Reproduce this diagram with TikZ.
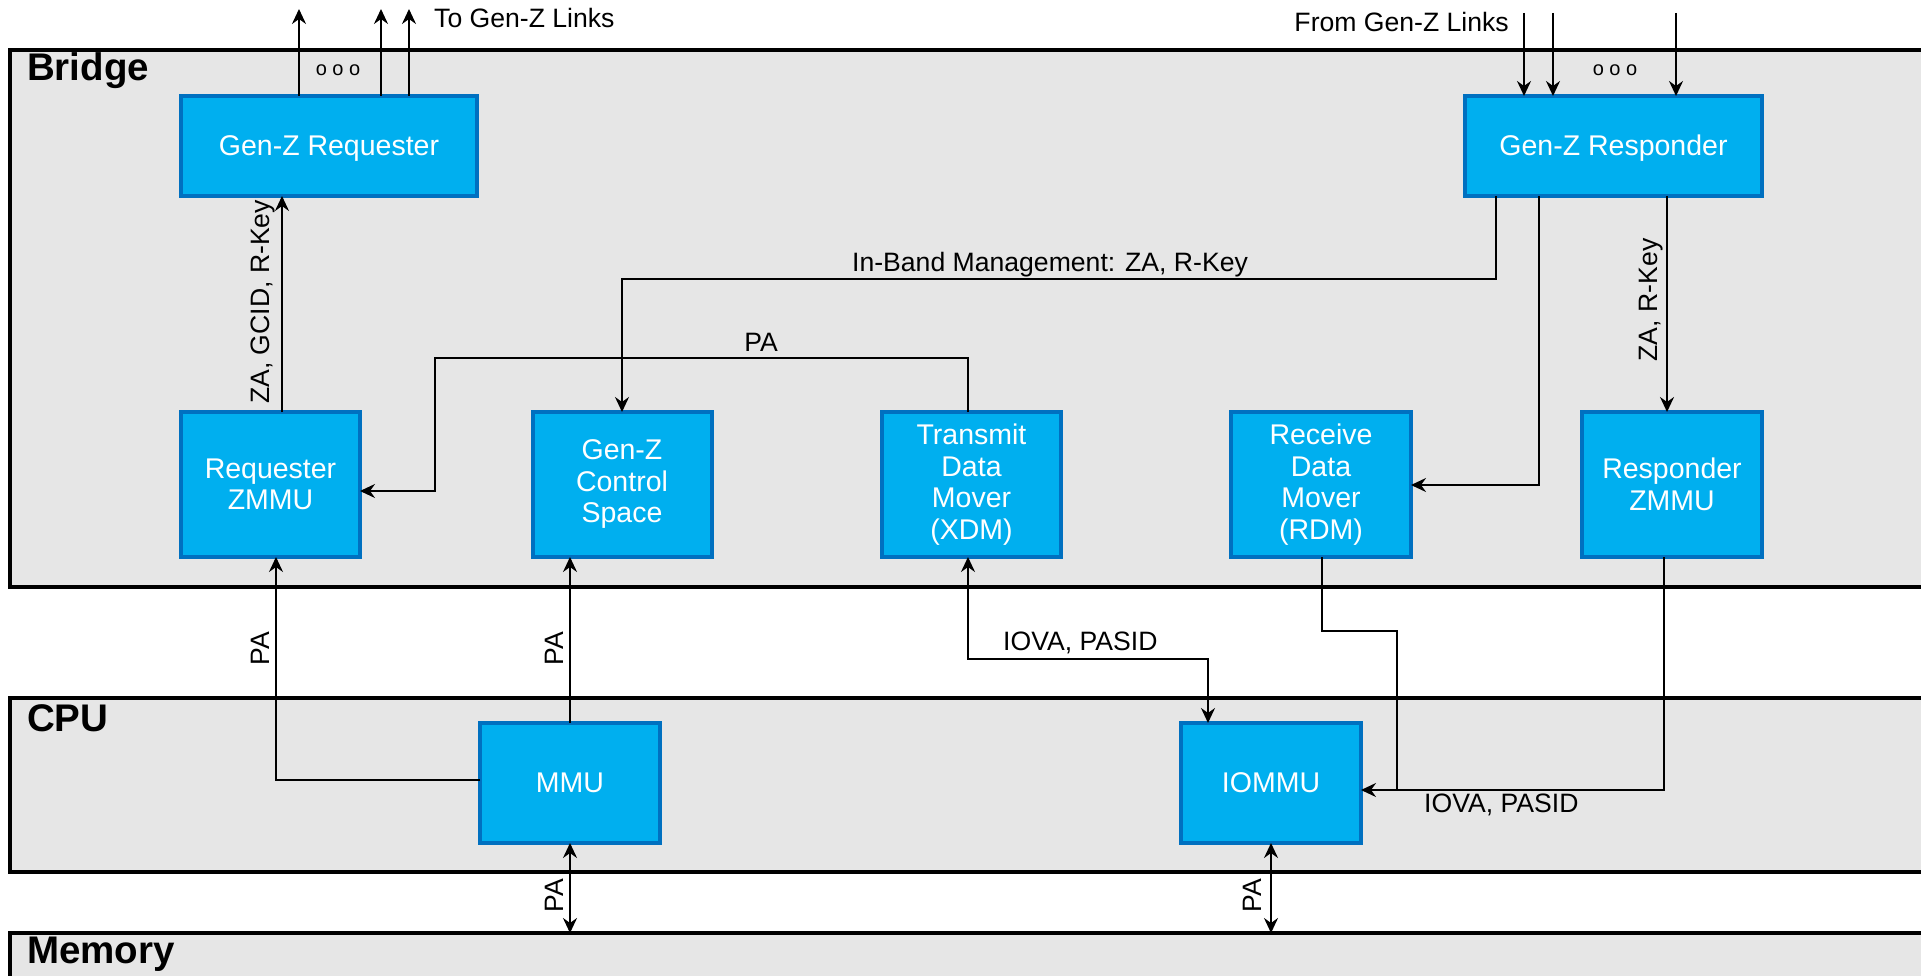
\documentclass[tikz,border=0pt]{standalone}
\usepackage{fontspec}
\setmainfont{Liberation Sans}
\usetikzlibrary{arrows.meta,calc}
\definecolor{boxfill}{HTML}{00AFEF}
\definecolor{boxedge}{HTML}{0070C0}
\definecolor{panelfill}{HTML}{E6E6E6}
\tikzset{
  panel/.style={draw=black, line width=4pt, fill=panelfill, rectangle, outer sep=0pt, inner sep=0pt},
  paneltitle/.style={anchor=west, inner sep=0pt, font=\fontsize{38.5}{40}\selectfont\bfseries},
  blk/.style={draw=boxedge, line width=4pt, fill=boxfill, rectangle, outer sep=0pt, inner sep=0pt,
    text=white, align=center, font=\fontsize{28.5}{31.5}\selectfont},
  strutted/.style={execute at begin node={\rule{0pt}{25pt}}},
  lbl/.style={inner sep=0pt, font=\fontsize{26.6}{30}\selectfont},
  dots/.style={inner sep=0pt, font=\fontsize{20}{22}\selectfont},
  tip/.tip={Stealth[length=15pt,width=14pt,inset=5pt]},
  arr/.style={line width=2pt, -tip},
  arrb/.style={line width=2pt, tip-tip},
  plain/.style={line width=2pt},
}
\begin{document}
\begin{tikzpicture}[x=1pt, y=-1pt]
\useasboundingbox (0,0) rectangle (1921,976);

% layers
\node[panel, minimum width=1950pt, minimum height=537pt] (bridge) at (985,318.5) {};
\node[panel, minimum width=1950pt, minimum height=174pt] (cpu) at (985,785) {};
\node[panel, minimum width=1950pt, minimum height=80pt] (mem) at (985,973) {};
\node[paneltitle] (tbridge) at (27,71) {Bridge};
\node[paneltitle] (tcpu) at (27,718) {CPU};
\node[paneltitle] (tmem) at (27,954) {Memory};

% blocks
\node[blk, strutted, minimum width=296pt, minimum height=100pt] (req) at (329,146) {Gen-Z Requester};
\node[blk, strutted, minimum width=297pt, minimum height=100pt] (resp) at (1613.5,146) {Gen-Z Responder};
\node[blk, minimum width=179pt, minimum height=145pt] (rzmmu) at (270.5,484.5) {Requester\\ZMMU};
\node[blk, minimum width=179pt, minimum height=145pt] (gcs) at (622,484.5) {Gen-Z\\Control\\Space};
\node[blk, minimum width=179pt, minimum height=145pt] (xdm) at (971.5,484.5) {Transmit\\Data\\Mover\\(XDM)};
\node[blk, minimum width=180pt, minimum height=145pt] (rdm) at (1321,484.5) {Receive\\Data\\Mover\\(RDM)};
\node[blk, minimum width=180pt, minimum height=145pt] (respz) at (1672,484.5) {Responder\\ZMMU};
\node[blk, minimum width=180pt, minimum height=120pt] (mmu) at (570,783) {MMU};
\node[blk, minimum width=180pt, minimum height=120pt] (iommu) at (1271,783) {IOMMU};

% link ends and bends
\coordinate (tA) at (299,9);
\coordinate (tB) at (381,9);
\coordinate (tC) at (409,9);
\coordinate (fA) at (1524,13);
\coordinate (fB) at (1553,13);
\coordinate (fC) at (1676,13);
\coordinate (ib) at (1496,279);
\coordinate (rd) at (1539,485);
\coordinate (rz) at (1667,0);
\coordinate (zq) at (282,0);
\coordinate (pa1) at (968,358);
\coordinate (pa2) at (435,491);
\coordinate (m1) at (276,780);
\coordinate (io1) at (968,659);
\coordinate (io2) at (1208,0);
\coordinate (r1) at (1322,631);
\coordinate (r2) at (1397,790);
\coordinate (rz2) at (1664,790);

% Gen-Z links
\draw[arr] (req.north -| tA) -- (tA);
\draw[arr] (req.north -| tB) -- (tB);
\draw[arr] (req.north -| tC) -- (tC);
\draw[arr] (fA) -- (fA |- resp.north);
\draw[arr] (fB) -- (fB |- resp.north);
\draw[arr] (fC) -- (fC |- resp.north);
\node[dots] (dl) at (338,70) {o o o};
\node[dots] (dr) at (1615,70) {o o o};
\node[lbl, anchor=west] (tolinks) at (434,18) {To Gen-Z Links};
\node[lbl, anchor=east] (fromlinks) at (1509,22) {From Gen-Z Links};

% inside the bridge
\draw[arr] (resp.south -| ib) -- (ib) -| (gcs.north);
\node[lbl] (lib) at (1050,265) {In-Band Management: ZA, R-Key};
\draw[arr] (resp.south -| rd) -- (rd) -- (rdm.east |- rd);
\draw[arr] (resp.south -| rz) -- (respz.north -| rz);
\node[lbl, rotate=90] (lzr) at (1651,300) {ZA, R-Key};
\draw[arr] (rzmmu.north -| zq) -- (req.south -| zq);
\node[lbl, rotate=90] (lzg) at (263,302) {ZA, GCID, R-Key};
\draw[arr] (xdm.north -| pa1) -- (pa1) -| (pa2) -- (rzmmu.east |- pa2);
\node[lbl] (lpa) at (761,342) {PA};

% bridge to CPU
\draw[arr] (mmu.west |- m1) -- (m1) -- (rzmmu.south -| m1);
\node[lbl, rotate=90] (lpa1) at (260,649) {PA};
\draw[arr] (mmu.north) -- (mmu.north |- gcs.south);
\node[lbl, rotate=90] (lpa2) at (554,649) {PA};
\draw[arrb] (xdm.south -| io1) -- (io1) -| (io2 |- iommu.north);
\node[lbl, anchor=west] (liova1) at (1003,643) {IOVA, PASID};
\draw[plain] (rdm.south -| r1) -- (r1) -| (r2);
\draw[arr] (respz.south -| rz2) -- (rz2) -- (iommu.east |- rz2);
\node[lbl, anchor=west] (liova2) at (1424,805) {IOVA, PASID};

% CPU to memory
\draw[arrb] (mmu.south) -- (mmu.south |- mem.north);
\node[lbl, rotate=90] (lpa3) at (554,896) {PA};
\draw[arrb] (iommu.south) -- (iommu.south |- mem.north);
\node[lbl, rotate=90] (lpa4) at (1252,896) {PA};
\end{tikzpicture}
\end{document}
